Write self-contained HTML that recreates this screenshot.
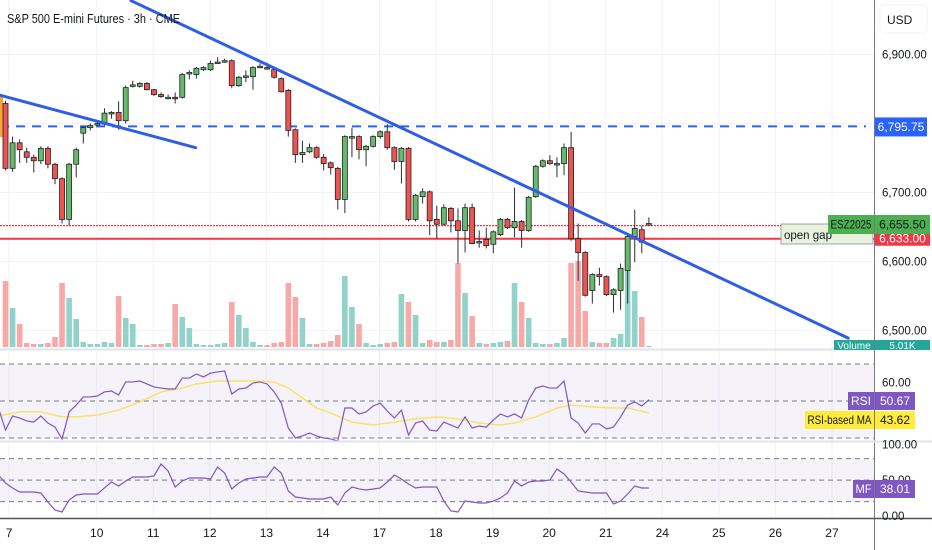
<!DOCTYPE html>
<html><head><meta charset="utf-8"><style>
html,body{margin:0;padding:0;background:#fff;}
svg{display:block;font-family:"Liberation Sans",sans-serif;}
</style></head><body>
<svg id="chart" width="932" height="550" viewBox="0 0 932 550" xmlns="http://www.w3.org/2000/svg">
<rect x="0" y="0" width="932" height="550" fill="#ffffff"/>
<g id="grid"></g>
<g id="rsiPanel"></g>
<g id="mfPanel"></g>
<g id="vol"></g>
<g id="lines"></g>
<g id="candles"></g>
<g id="trend"></g>
<g id="axes"></g>
<text x="7" y="23" font-size="12.5" fill="#131722" textLength="173" lengthAdjust="spacingAndGlyphs">S&amp;P 500 E-mini Futures · 3h · CME</text>
</svg>
<script>
const opens=[6829,6735,6772,6759,6751,6746,6764,6741,6720,6661,6741,6786,6794,6799,6799,6815,6816,6804,6855,6854,6858,6849,6842,6838,6838,6838,6873,6871,6878,6878,6888,6891,6891,6855,6868,6868,6882,6881,6878,6865,6848,6791,6755,6759,6765,6751,6743,6735,6690,6781,6781,6762,6767,6781,6788,6765,6745,6764,6661,6694,6701,6661,6654,6677,6659,6645,6678,6629,6632,6625,6639,6661,6649,6658,6645,6694,6738,6746,6742,6742,6765,6633,6613,6558,6581,6578,6552,6558,6587,6636,6646,6655];
const highs=[6833,6781,6777,6765,6755,6767,6767,6743,6722,6743,6765,6797,6800,6803,6822,6818,6832,6855,6862,6860,6860,6850,6845,6842,6845,6873,6877,6882,6883,6891,6896,6894,6893,6869,6877,6883,6887,6888,6880,6867,6850,6793,6775,6771,6767,6756,6745,6737,6783,6794,6783,6769,6783,6790,6799,6767,6766,6766,6698,6706,6703,6681,6683,6679,6677,6684,6684,6645,6649,6645,6663,6663,6707,6660,6695,6740,6748,6754,6751,6771,6788,6655,6615,6583,6591,6580,6561,6597,6638,6675,6652,6664];
const lows=[6732,6730,6743,6743,6729,6741,6735,6712,6655,6652,6722,6771,6790,6797,6797,6807,6791,6800,6852,6852,6848,6840,6837,6835,6829,6836,6864,6865,6876,6876,6886,6888,6851,6853,6860,6849,6880,6878,6865,6845,6781,6743,6743,6757,6749,6732,6726,6675,6670,6751,6748,6738,6765,6778,6762,6733,6713,6658,6658,6684,6638,6633,6652,6642,6597,6613,6625,6620,6619,6612,6637,6647,6635,6620,6643,6692,6736,6740,6722,6725,6630,6572,6549,6539,6565,6550,6526,6530,6539,6599,6612,6653];
const closes=[6735,6772,6762,6751,6746,6764,6741,6720,6661,6741,6762,6794,6797,6800,6815,6816,6804,6852,6856,6858,6849,6842,6839,6838,6837,6871,6874,6880,6881,6887,6889,6891,6855,6867,6869,6881,6883,6880,6867,6846,6790,6755,6758,6765,6751,6742,6736,6690,6781,6781,6762,6767,6781,6788,6765,6745,6764,6661,6696,6701,6659,6654,6678,6659,6645,6678,6626,6629,6623,6643,6661,6649,6658,6645,6693,6738,6746,6742,6742,6765,6633,6613,6551,6581,6578,6552,6559,6590,6636,6648,6628,6655];
const volumes=[33,19.5,11.5,2,1.5,1.5,2,5,32,24.5,14,2.5,1.5,1.5,2.5,2,25.5,14.5,11.5,1,1,1.5,1.5,2,21.5,15,9.5,1.5,1,1,1.5,2,22.5,16,9.5,2.5,1,1,2,2.5,32,25,14.5,1.5,1.5,2,3,6,35.5,20,11.5,2,1,1.5,2,2.5,26.5,22.5,16,2,3.5,2.5,2.5,3.5,42,27,15.5,2,1.5,2,2.5,3,32,22.5,14.5,2,1.5,1.5,2,4.5,42,43,18,2.5,2,2,4.5,6.5,38.5,28,15,0.5];
const rsi=[46.2,34.3,41.9,40.8,39.2,38.6,41.9,38.1,35.9,29.5,44.1,47.8,52.2,52.2,52.7,54.9,55.4,53.2,60.3,60.3,60.8,59.2,57.6,57.0,56.5,56.5,62.4,62.4,64.6,63.0,65.1,65.7,66.2,53.8,56.5,57.0,59.7,60.3,59.2,54.9,48.9,35.4,30.0,31.1,32.7,31.1,30.0,29.5,28.4,46.2,46.2,43.0,44.1,47.3,48.9,44.6,40.8,45.1,31.6,38.1,39.2,34.3,33.8,38.6,37.0,35.4,41.4,35.4,36.5,35.9,39.7,43.0,41.4,43.0,40.8,50.5,57.0,58.1,57.0,57.0,60.8,40.8,38.1,32.7,37.6,37.6,34.9,35.9,41.4,47.8,49.5,47.3,50.7];
const maIndex=[-1,2,5,8,10,13,16,19,22,25,27,30,33,36,38,40,42,44,46,49,52,55,58,61,64,67,70,72,75,78,80,83,86,88,91];
const maValues=[41.9,44.1,44.1,41.4,41.4,42.4,45.1,49.5,54.9,57.0,59.2,60.8,60.8,60.8,60.3,57.0,51.6,46.2,43.5,38.6,37.0,38.6,40.3,41.4,40.3,38.1,37.0,38.1,41.4,46.2,47.8,46.8,46.2,46.2,43.5];
const mf=[57.2,46.0,39.1,33.5,33.5,33.5,32.1,19.5,8.4,5.6,22.3,29.3,30.7,30.7,30.7,39.1,47.4,41.8,48.8,54.4,54.4,54.4,55.8,72.5,62.8,40.4,48.8,53.0,53.0,53.0,51.6,68.3,60.0,37.7,46.0,51.6,53.0,54.4,54.4,68.3,60.0,34.9,26.5,25.1,23.7,23.7,23.7,26.5,15.3,32.1,40.4,37.7,36.3,37.7,39.1,47.4,57.2,51.6,44.6,39.1,40.4,40.4,40.4,20.9,7.0,5.6,20.9,19.5,18.1,18.1,20.9,25.1,32.1,48.8,41.8,47.4,48.8,48.8,50.2,65.6,58.6,47.4,34.9,33.5,32.1,32.1,32.1,16.7,20.9,30.7,41.8,39.1,39.1];
const priceTicks=[6900,6700,6600,6500];
const priceTickLabels=["6,900.00","6,700.00","6,600.00","6,500.00"];
const gridPrices=[6900,6800,6700,6600,6500];
const dateLabels=["7","10","11","12","13","14","17","18","19","20","21","24","25","26","27"];
const dateIndex=[0.6,13,21,29,37,45,53,61,69,77,85,93,101,109,117];
const trendLines=[[-0.78,6841,26.9,6765],[17.75,6978,119.2,6489]];
const resistance=6795.75, gapTop=6652, gapBottom=6633;

const NS="http://www.w3.org/2000/svg";
const xOf=i=>5.5+7.07*i;
const yP=p=>192.5-(p-6700)*0.69;
const yV=v=>347-v*2;
const yR=r=>401-(r-50)*1.85;
const yM=m=>516-m*0.717;
function mk(tag,attrs,parent,txt){const e=document.createElementNS(NS,tag);for(const k in attrs)e.setAttribute(k,attrs[k]);if(txt!==undefined)e.textContent=txt;parent.appendChild(e);return e;}
const $=id=>document.getElementById(id);

const g=$('grid');
gridPrices.forEach(p=>{const l=mk('line',{x1:0,x2:874,y1:yP(p),y2:yP(p),stroke:'#f0f3fa','stroke-width':1},g);

});
dateIndex.forEach(d=>{const x=xOf(d-0.1);const l=mk('line',{x1:x,x2:x,y1:0,y2:518,stroke:'#f0f3fa','stroke-width':1},g);

});

const rp=$('rsiPanel');
let e=mk('rect',{x:0,y:yR(70),width:874,height:yR(30)-yR(70),fill:'#7e57c2','fill-opacity':0.08},rp);


[70,50,30].forEach(v=>{const l=mk('line',{x1:0,x2:874,y1:yR(v),y2:yR(v),stroke:'#787b86','stroke-dasharray':'5,4','stroke-width':1},rp);

});
e=mk('polyline',{points:maIndex.map((k,j)=>xOf(k)+','+yR(maValues[j])).join(' '),fill:'none',stroke:'#f5e46b','stroke-width':1.5},rp);


e=mk('polyline',{points:rsi.map((v,j)=>xOf(j-1)+','+yR(v)).join(' '),fill:'none',stroke:'#7e57c2','stroke-width':1.2},rp);



const mp=$('mfPanel');
e=mk('rect',{x:0,y:yM(80),width:874,height:yM(20)-yM(80),fill:'#7e57c2','fill-opacity':0.08},mp);


[80,50,20].forEach(v=>{const l=mk('line',{x1:0,x2:874,y1:yM(v),y2:yM(v),stroke:'#787b86','stroke-dasharray':'5,4','stroke-width':1},mp);

});
e=mk('polyline',{points:mf.map((v,j)=>xOf(j-1)+','+yM(v)).join(' '),fill:'none',stroke:'#7e57c2','stroke-width':1.2},mp);



const vg=$('vol');
volumes.forEach((v,i)=>{const up=closes[i]>=opens[i];const r=mk('rect',{x:xOf(i)-2.8,y:yV(v),width:5.6,height:347-yV(v),fill:up?'#92d2ca':'#f7a9a7'},vg);

});

const lg=$('lines');
e=mk('line',{x1:0,x2:866,y1:yP(resistance),y2:yP(resistance),stroke:'#2962ff','stroke-width':2,'stroke-dasharray':'9,7'},lg);


e=mk('line',{x1:0,x2:874,y1:yP(gapTop),y2:yP(gapTop),stroke:'#f23645','stroke-width':1.2,'stroke-dasharray':'2,1'},lg);


e=mk('line',{x1:0,x2:874,y1:yP(gapBottom),y2:yP(gapBottom),stroke:'#f23645','stroke-width':2},lg);


e=mk('rect',{x:0,y:97,width:3,height:40,fill:'#f7a43a'},lg);



const cg=$('candles');
opens.forEach((o,i)=>{const c=closes[i],x=xOf(i),up=c>=o;
const w=mk('line',{x1:x,x2:x,y1:yP(highs[i]),y2:yP(lows[i]),stroke:'#2a2e39','stroke-width':1},cg);


const top=yP(Math.max(o,c)),h=Math.max(1.5,Math.abs(yP(o)-yP(c)));
const b=mk('rect',{x:x-2.5,y:top,width:5,height:h,fill:up?'#66bb6a':'#ef5350',stroke:'#1f2227','stroke-width':0.8},cg);

});

const tg=$('trend');
trendLines.forEach(t=>{const l=mk('line',{x1:xOf(t[0]),y1:yP(t[1]),x2:xOf(t[2]),y2:yP(t[3]),stroke:'#2f5ee6','stroke-width':3,'stroke-linecap':'round'},tg);

});

const ag=$('axes');
e=mk('rect',{x:875,y:0,width:57,height:550,fill:'#ffffff'},ag);


e=mk('line',{x1:874.5,x2:874.5,y1:0,y2:550,stroke:'#787b86','stroke-width':1},ag);


e=mk('line',{x1:0,x2:874,y1:349.5,y2:349.5,stroke:'#e0e3eb','stroke-width':2},ag);


e=mk('line',{x1:0,x2:932,y1:441.5,y2:441.5,stroke:'#e0e3eb','stroke-width':2},ag);


e=mk('line',{x1:0,x2:932,y1:518.5,y2:518.5,stroke:'#50535e','stroke-width':1.5},ag);


e=mk('rect',{x:880,y:5,width:47,height:28,rx:4,fill:'#fff',stroke:'#f0f3fa'},ag);


e=mk('text',{x:887,y:24,'font-size':12,fill:'#131722'},ag,'USD');


priceTicks.forEach((p,j)=>{const t=mk('text',{x:882,y:yP(p)+4,'font-size':11.5,fill:'#131722'},ag,priceTickLabels[j]);

});
dateLabels.forEach((d,j)=>{const t=mk('text',{x:xOf(dateIndex[j]-0.1),y:537,'font-size':12,fill:'#131722','text-anchor':'middle'},ag,d);

});
[['60.00',yR(60)],['100.00',yM(100)],['50.00',yM(50)],['0.00',yM(0)]].forEach(a=>{const t=mk('text',{x:882,y:a[1]+4,'font-size':11.5,fill:'#131722'},ag,a[0]);

});

function tag(x,y,w,h,fill,txt,col,name,size){const r=mk('rect',{x:x,y:y,width:w,height:h,fill:fill},ag);


if(!txt)return;
const t=mk('text',{x:x+w/2,y:y+h/2+4,'font-size':size||12,fill:col,'text-anchor':'middle'},ag,txt);
const len=t.getComputedTextLength();
if(len>w-5){t.setAttribute('textLength',w-5);t.setAttribute('lengthAdjust','spacingAndGlyphs');}

}
tag(875,yP(resistance)-9,52,19,'#2962ff','6,795.75','#fff','resistance-price-tag');
tag(875,yP(gapBottom)-7,55,14,'#f23645','6,633.00','#fff','gap-price-tag');
tag(781,224,92,20,'#e9f2df','','#000','open-gap-box');
e=mk('rect',{x:781,y:224,width:92,height:20,fill:'none',stroke:'#8a8f8a','stroke-width':0.8},ag);


e=mk('text',{x:784,y:239,'font-size':11.5,fill:'#131722'},ag,'open gap');


tag(828,215,46,19,'#4caf50','ESZ2025','#131722','symbol-tag');
tag(875,215,55,19,'#4caf50','6,655.50','#131722','last-price-tag');
tag(834,340,40,10,'#26a69a','Volume','#fff','volume-tag',10);
tag(875,340,55,10,'#26a69a','5.01K','#fff','volume-value-tag',10);
tag(848,392,26,18,'#7e57c2','RSI','#fff','rsi-tag');
tag(875,392,40,18,'#7e57c2','50.67','#fff','rsi-value-tag');
tag(805,411,69,18,'#ffeb3b','RSI-based MA','#131722','rsi-ma-tag');
tag(875,411,40,18,'#ffeb3b','43.62','#131722','rsi-ma-value-tag');
tag(853,480,21,18,'#7e57c2','MF','#fff','mf-tag');
tag(875,480,40,18,'#7e57c2','38.01','#fff','mf-value-tag');
</script>
</body></html>
